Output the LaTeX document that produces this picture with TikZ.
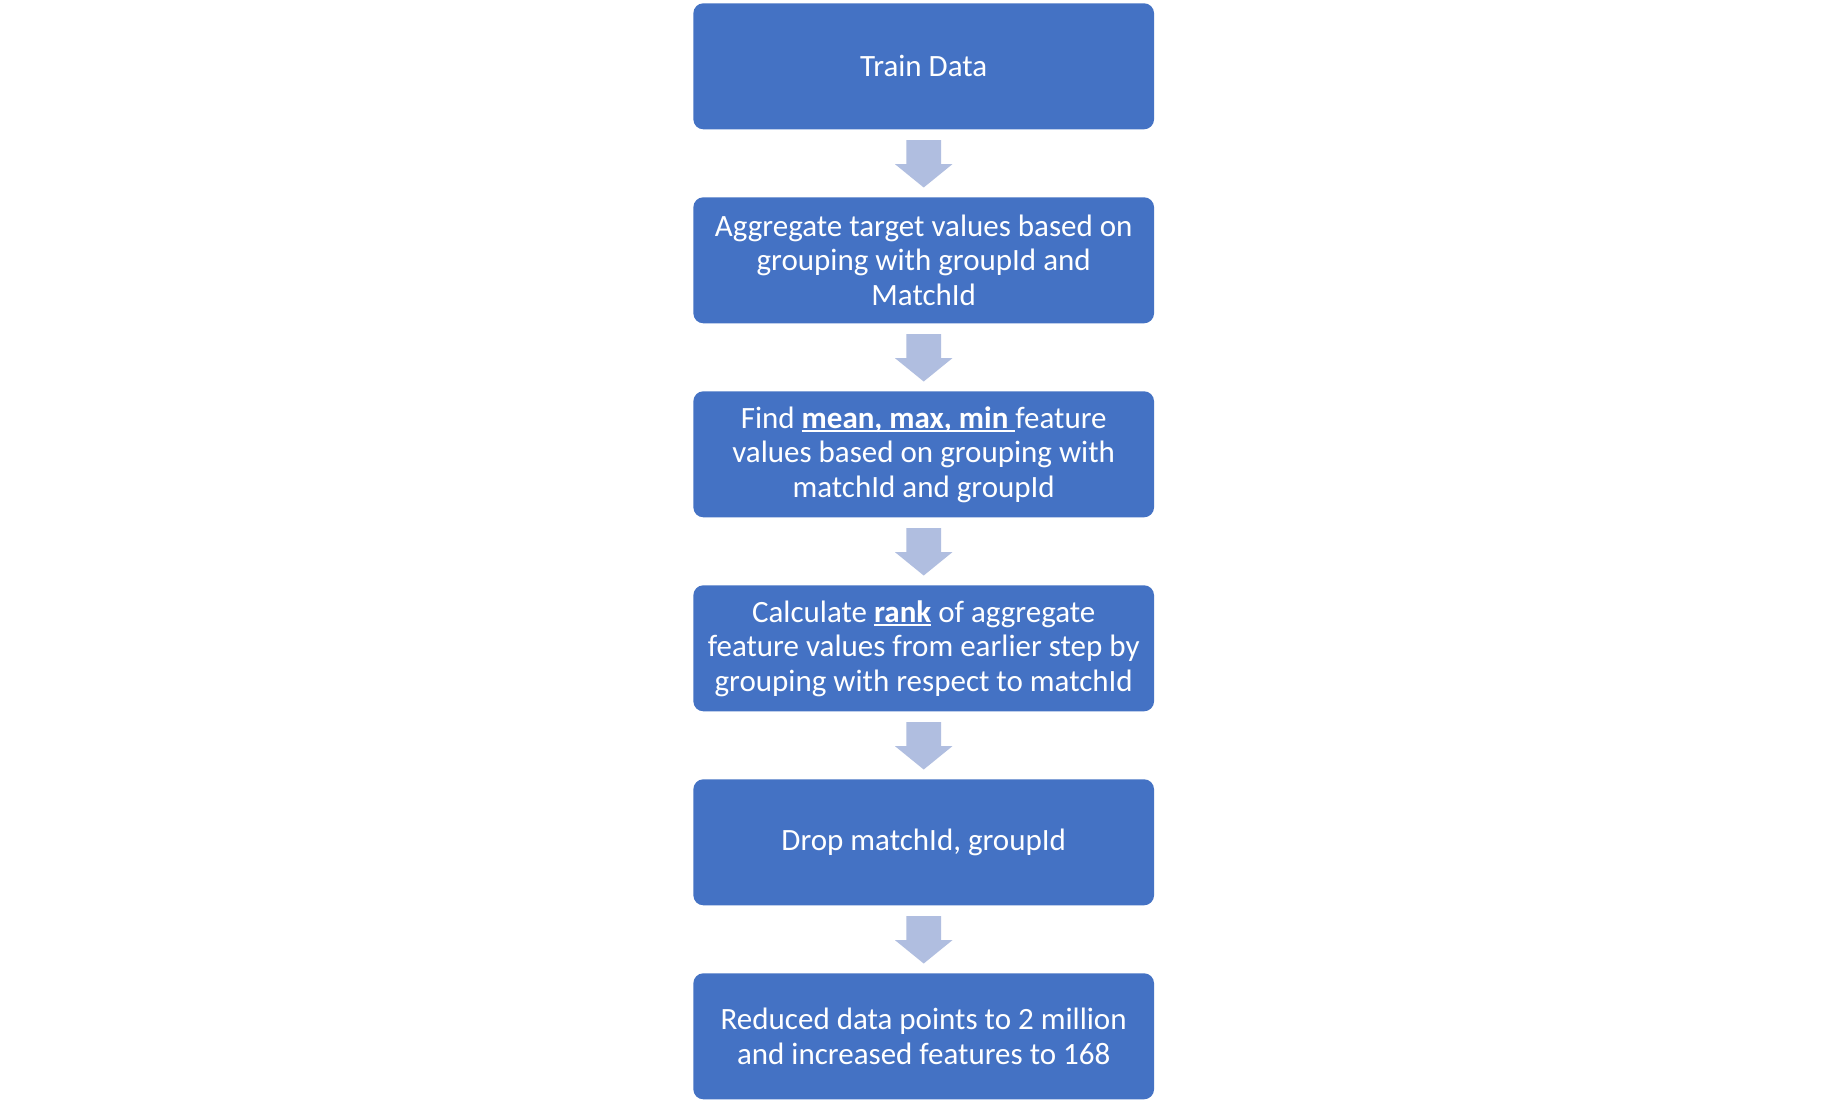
\documentclass[tikz,border=0pt]{standalone}
\usepackage{fontspec}
\setmainfont{Carlito}
\usetikzlibrary{calc}
\definecolor{boxblue}{HTML}{4472C4}
\definecolor{arrowblue}{HTML}{B0BEE0}
\newcommand{\myul}[1]{\setbox0\hbox{#1}\rlap{\rule[-4pt]{\wd0}{2pt}}\box0\relax}
\tikzset{
  stepbox/.style={rectangle, rounded corners=10pt, fill=boxblue, draw=none,
    minimum width=460.7pt, minimum height=126pt, text=white, align=center,
    font=\fontsize{31pt}{34.5pt}\selectfont},
  blockarrow/.style={fill=arrowblue, draw=none}
}
\newcommand{\blockarr}[1]{%
  \fill[blockarrow] ([xshift=-17.35pt,yshift=-10.7pt]#1.south) -- ([xshift=17.35pt,yshift=-10.7pt]#1.south)
    -- ([xshift=17.35pt,yshift=-34.7pt]#1.south) -- ([xshift=28.65pt,yshift=-34.7pt]#1.south)
    -- ([yshift=-58pt]#1.south) -- ([xshift=-28.65pt,yshift=-34.7pt]#1.south)
    -- ([xshift=-17.35pt,yshift=-34.7pt]#1.south) -- cycle;}
\begin{document}
\begin{tikzpicture}[x=1pt,y=-1pt]
\useasboundingbox[fill=white] (0,0) rectangle (1845,1102);
\node[stepbox] (n1) at (923.7,66.3) {Train Data};
\node[stepbox] (n2) at (923.7,260.3) {Aggregate target values based on\\grouping with groupId and\\MatchId};
\node[stepbox] (n3) at (923.7,454.3) {Find \myul{\textbf{mean, max, min}\ }feature\\values based on grouping with\\matchId and groupId};
\node[stepbox] (n4) at (923.7,648.3) {Calculate \myul{\textbf{rank}} of aggregate\\feature values from earlier step by\\grouping with respect to matchId};
\node[stepbox] (n5) at (923.7,842.3) {Drop matchId, groupId};
\node[stepbox] (n6) at (923.7,1036.3) {Reduced data points to 2 million\\and increased features to 168};
\blockarr{n1}
\blockarr{n2}
\blockarr{n3}
\blockarr{n4}
\blockarr{n5}
\end{tikzpicture}
\end{document}
